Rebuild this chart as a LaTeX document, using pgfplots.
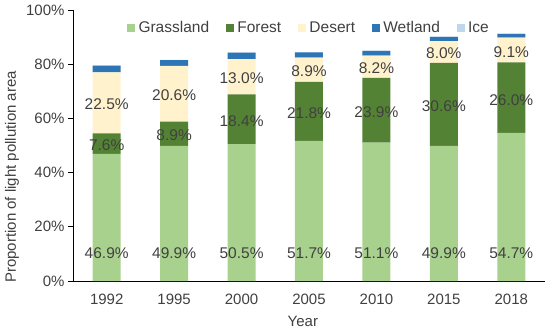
\documentclass[border=0pt]{standalone}
\usepackage{pgfplots}
\pgfplotsset{compat=1.18}
\usepackage{fontspec}
\setmainfont{Liberation Sans}
\definecolor{grass}{HTML}{A9D18E}
\definecolor{forestc}{HTML}{548235}
\definecolor{desert}{HTML}{FFF2CC}
\definecolor{wetland}{HTML}{2E75B6}
\definecolor{icec}{HTML}{BDD7EE}
\definecolor{txt}{HTML}{404040}
\begin{document}
\begin{tikzpicture}[font=\fontsize{15}{18}\selectfont]
\begin{axis}[
  at={(0,0)}, anchor=south west,
  scale only axis, width=472pt, height=271pt,
  ybar stacked, bar width=28pt,
  xmin=-0.5, xmax=6.5, ymin=0, ymax=100,
  xtick={0,1,2,3,4,5,6}, xticklabels={1992,1995,2000,2005,2010,2015,2018},
  ytick={0,20,40,60,80,100},
  yticklabel={\pgfmathprintnumber{\tick}\%},
  /pgf/number format/assume math mode=true,
  axis x line*=bottom, axis y line*=left,
  axis line style={-, draw=black, line width=0.8pt},
  xtick style={draw=none},
  ytick style={draw=black, line width=0.8pt},
  tick align=outside, major tick length=5pt,
  tick label style={text=txt},
  xticklabel style={yshift=-4.5pt},
  every axis y label/.style={at={(axis description cs:-0.129,0.384)}, rotate=90, anchor=center, text=txt},
  every axis x label/.style={at={(axis description cs:0.487,-0.148)}, anchor=center, text=txt},
  ylabel={Proportion of light pollution area},
  xlabel={Year},
  legend style={at={(0.498,0.934)}, anchor=center, draw=none, fill=none, text=txt,
    font=\fontsize{15.5}{18}\selectfont,
    nodes={inner sep=0pt},
    legend columns=-1,
    /tikz/every odd column/.append style={column sep=3.5pt},
    /tikz/every even column/.append style={column sep=17pt}},
  legend image code/.code={\fill[#1] (0pt,-3.7pt) rectangle (7.7pt,3.7pt);},
]
\addplot[fill=grass, draw=none] coordinates {(0,46.9) (1,49.9) (2,50.5) (3,51.7) (4,51.1) (5,49.9) (6,54.7)};
\addplot[fill=forestc, draw=none] coordinates {(0,7.6) (1,8.9) (2,18.4) (3,21.8) (4,23.9) (5,30.6) (6,26.0)};
\addplot[fill=desert, draw=none] coordinates {(0,22.5) (1,20.6) (2,13.0) (3,8.9) (4,8.2) (5,8.0) (6,9.1)};
\addplot[fill=wetland, draw=none] coordinates {(0,2.5) (1,2.1) (2,2.4) (3,2.0) (4,1.7) (5,1.6) (6,1.4)};
\addplot[fill=icec, draw=none] coordinates {(0,0.1) (1,0.1) (2,0.1) (3,0.1) (4,0.1) (5,0.1) (6,0.1)};
\legend{Grassland,Forest,Desert,Wetland,Ice}
\end{axis}
\begin{axis}[
  at={(0,0)}, anchor=south west,
  scale only axis, width=472pt, height=271pt,
  xmin=-0.5, xmax=6.5, ymin=0, ymax=100, hide axis,
  nodes near coords, point meta=explicit symbolic,
  nodes near coords align=center,
  every node near coord/.append style={anchor=center, text=txt, font=\fontsize{15.5}{18}\selectfont},
]
\addplot[draw=none, mark=none] coordinates {(0,10.3) [46.9\%] (1,10.3) [49.9\%] (2,10.3) [50.5\%] (3,10.3) [51.7\%] (4,10.3) [51.1\%] (5,10.3) [49.9\%] (6,10.3) [54.7\%]};
\addplot[draw=none, mark=none] coordinates {(0,50.0) [7.6\%] (1,53.7) [8.9\%] (2,59.0) [18.4\%] (3,61.9) [21.8\%] (4,62.3) [23.9\%] (5,64.4) [30.6\%] (6,66.9) [26.0\%]};
\addplot[draw=none, mark=none] coordinates {(0,65.2) [22.5\%] (1,68.5) [20.6\%] (2,74.8) [13.0\%] (3,77.3) [8.9\%] (4,78.5) [8.2\%] (5,83.9) [8.0\%] (6,84.6) [9.1\%]};
\end{axis}
\pgfresetboundingbox
\path (-73pt,-49pt) rectangle (477pt,281pt);
\end{tikzpicture}
\end{document}
